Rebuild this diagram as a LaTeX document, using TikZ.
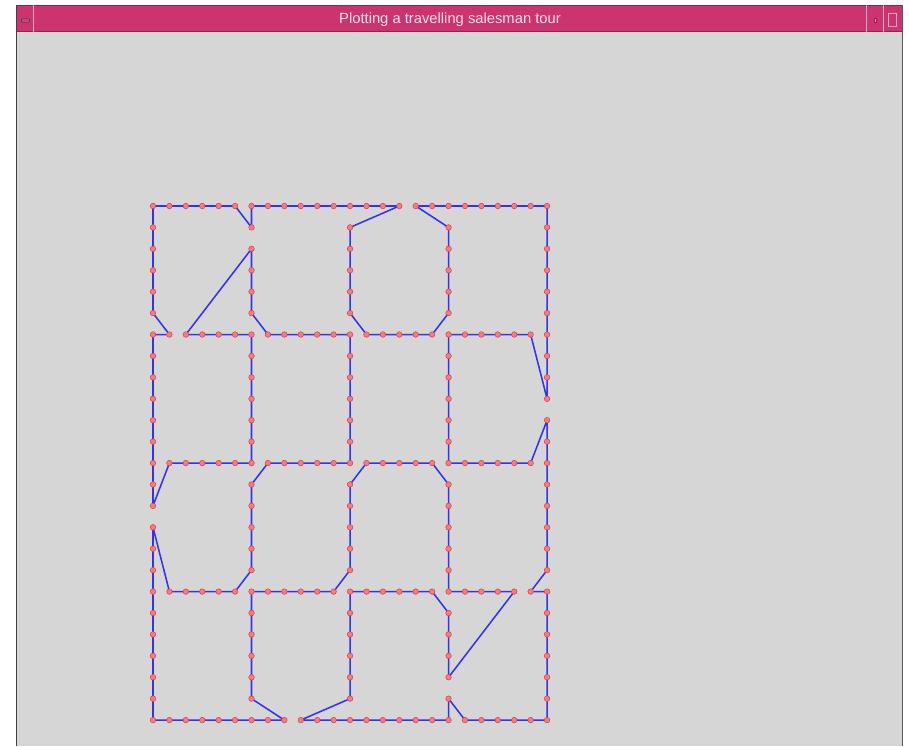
\documentclass[tikz,border=0pt]{standalone}
\usepackage{fontspec}
\setmainfont{Liberation Sans}
\pgfdeclarelayer{bg}
\pgfsetlayers{bg,main}
\definecolor{winbg}{RGB}{214,214,214}
\definecolor{titlepink}{RGB}{204,52,112}
\definecolor{titleedge}{RGB}{140,36,90}
\definecolor{titletext}{RGB}{250,225,235}
\definecolor{tourblue}{RGB}{50,50,240}
\definecolor{dotfill}{RGB}{245,125,125}
\definecolor{dotedge}{RGB}{228,55,65}
\tikzset{
  dot/.style={circle, inner sep=0pt, minimum size=0.14cm, fill=dotfill, draw=dotedge, line width=0.35pt},
  tour/.style={draw=tourblue, line width=1.1pt, line join=round},
  divider/.style={draw=titletext!70!titlepink, line width=0.6pt},
}
\begin{document}
\begin{tikzpicture}[x=0.025cm, y=-0.025cm]
\useasboundingbox (0,0) rectangle (909,746);
% points of the tour
\foreach \k in {0,6,12,18,24}{
  \foreach \m in {0,...,24}{
    \node[dot] (p-\k-\m) at ({153+16.42*\k},{206+21.42*\m}) {};
  }
  \foreach \m in {1,2,3,4,5,7,8,9,10,11,13,14,15,16,17,19,20,21,22,23}{
    \node[dot] (p-\m-\k) at ({153+16.42*\m},{206+21.42*\k}) {};
  }
}
% window title elements
\node[inner sep=0pt, text=titletext, font=\fontsize{10.5}{11}\selectfont] (title) at (450,20) {Plotting a travelling salesman tour};
\node[draw=titleedge, fill=titlepink!60!gray, rounded corners=0.5pt, minimum width=0.2cm, minimum height=0.09cm, inner sep=0pt] (menubtn) at (25.5,20.5) {};
\node[draw=titleedge, fill=titletext!60!titlepink, minimum width=0.05cm, minimum height=0.1cm, inner sep=0pt] (minbtn) at (875,20.5) {};
\node[draw=titletext!70!titlepink, line width=0.6pt, minimum width=0.22cm, minimum height=0.34cm, inner sep=0pt] (maxbtn) at (892.5,20) {};
\begin{pgfonlayer}{bg}
  \fill[white] (0,0) rectangle (909,746);
  \fill[winbg] (16,32) rectangle (903,746);
  \fill[titlepink] (16,5) rectangle (903,32);
  \draw[titleedge, line width=0.7pt] (16,5.5) -- (903,5.5);
  \draw[titleedge, line width=0.7pt] (16,31.5) -- (903,31.5);
  \draw[divider] (33,5) -- (33,32);
  \draw[divider] (866,5) -- (866,32);
  \draw[divider] (883,5) -- (883,32);
  \draw[gray!50!black, line width=1pt] (16.5,5) -- (16.5,746);
  \draw[gray!70!black, line width=0.6pt] (902.5,5) -- (902.5,746);
  % the tour
  \draw[tour] (p-0-0.center) -- (p-5-0.center) -- (p-6-1.center) -- (p-6-0.center)
    -- (p-15-0.center) -- (p-12-1.center) -- (p-12-5.center) -- (p-13-6.center)
    -- (p-17-6.center) -- (p-18-5.center) -- (p-18-1.center) -- (p-16-0.center)
    -- (p-24-0.center) -- (p-24-9.center) -- (p-23-6.center) -- (p-18-6.center)
    -- (p-18-12.center) -- (p-23-12.center) -- (p-24-10.center) -- (p-24-17.center)
    -- (p-23-18.center) -- (p-24-18.center) -- (p-24-24.center) -- (p-19-24.center)
    -- (p-18-23.center) -- (p-18-24.center) -- (p-9-24.center) -- (p-12-23.center)
    -- (p-12-18.center) -- (p-17-18.center) -- (p-18-19.center) -- (p-18-22.center)
    -- (p-22-18.center) -- (p-18-18.center) -- (p-18-13.center) -- (p-17-12.center)
    -- (p-13-12.center) -- (p-12-13.center) -- (p-12-17.center) -- (p-11-18.center)
    -- (p-6-18.center) -- (p-6-23.center) -- (p-8-24.center) -- (p-0-24.center)
    -- (p-0-15.center) -- (p-1-18.center) -- (p-5-18.center) -- (p-6-17.center)
    -- (p-6-13.center) -- (p-7-12.center) -- (p-12-12.center) -- (p-12-6.center)
    -- (p-7-6.center) -- (p-6-5.center) -- (p-6-2.center) -- (p-2-6.center)
    -- (p-6-6.center) -- (p-6-12.center) -- (p-1-12.center) -- (p-0-14.center)
    -- (p-0-6.center) -- (p-1-6.center) -- (p-0-5.center) -- cycle;
\end{pgfonlayer}
\end{tikzpicture}
\end{document}
